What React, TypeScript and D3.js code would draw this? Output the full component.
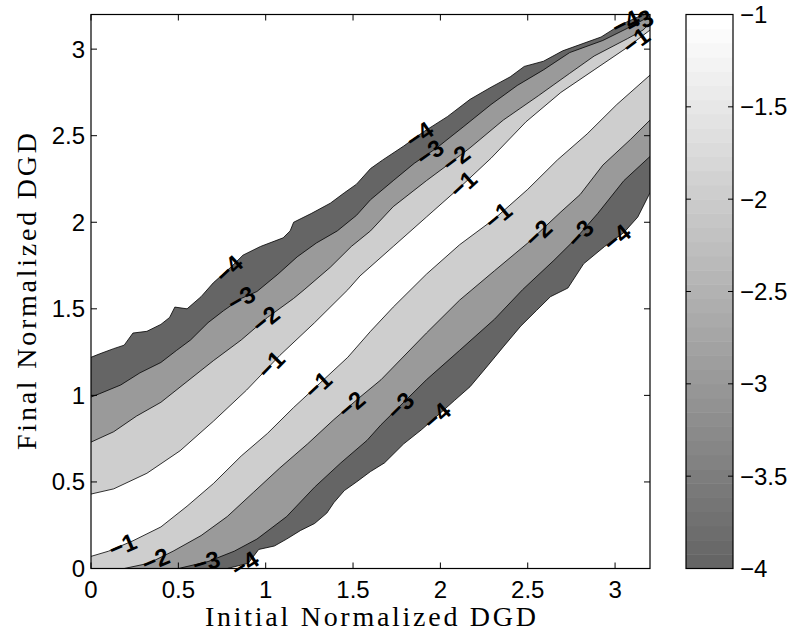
import React from 'react';
import * as d3 from 'd3';

type Pt = [number, number];

// Axis domains and ticks
const xDomain: [number, number] = [0, 3.2];
const yDomain: [number, number] = [0, 3.2];
const xTicks = [0, 0.5, 1, 1.5, 2, 2.5, 3];
const yTicks = [0, 0.5, 1, 1.5, 2, 2.5, 3];
const xTickLabels = ['0', '0.5', '1', '1.5', '2', '2.5', '3'];
const yTickLabels = ['0', '0.5', '1', '1.5', '2', '2.5', '3'];

// Contour levels (log10 of probability density) and the colour axis
const levels = [-4, -3, -2, -1];
const colorDomain: [number, number] = [-4, -1];
const colorTicks = [-1, -1.5, -2, -2.5, -3, -3.5, -4];
const colorTickLabels = ['\u22121', '\u22121.5', '\u22122', '\u22122.5', '\u22123', '\u22123.5', '\u22124'];

// Contour lines above the diagonal ridge (initial DGD, final DGD)
const upper4: Pt[] = [
  [0, 1.22], [0.05, 1.24], [0.13, 1.27], [0.19, 1.29], [0.24, 1.36], [0.32, 1.37], [0.4, 1.41],
  [0.45, 1.45], [0.48, 1.51], [0.55, 1.5], [0.63, 1.57], [0.7, 1.65], [0.8, 1.74], [0.87, 1.81],
  [0.97, 1.86], [1.1, 1.91], [1.14, 1.95], [1.16, 2.0], [1.26, 2.05], [1.37, 2.11], [1.45, 2.17],
  [1.52, 2.22], [1.6, 2.31], [1.67, 2.36], [1.79, 2.44], [1.9, 2.52], [2.04, 2.61], [2.17, 2.71],
  [2.29, 2.78], [2.4, 2.84], [2.48, 2.9], [2.59, 2.93], [2.7, 2.99], [2.92, 3.07], [3.03, 3.14],
  [3.14, 3.19], [3.17, 3.2],
];
const upper3: Pt[] = [
  [0, 0.99], [0.05, 1.01], [0.17, 1.06], [0.28, 1.13], [0.4, 1.19], [0.49, 1.26], [0.57, 1.32],
  [0.67, 1.42], [0.76, 1.49], [0.86, 1.56], [0.95, 1.6], [1.07, 1.7], [1.18, 1.8], [1.29, 1.88],
  [1.41, 1.95], [1.52, 2.04], [1.6, 2.13], [1.73, 2.24], [1.85, 2.34], [1.98, 2.43], [2.13, 2.55],
  [2.29, 2.68], [2.44, 2.79], [2.59, 2.88], [2.74, 2.98], [2.93, 3.05], [3.07, 3.12], [3.2, 3.19],
];
const upper2: Pt[] = [
  [0, 0.73], [0.13, 0.79], [0.26, 0.88], [0.4, 0.96], [0.55, 1.08], [0.7, 1.2], [0.86, 1.32],
  [1.01, 1.45], [1.16, 1.56], [1.22, 1.61], [1.37, 1.74], [1.49, 1.86], [1.6, 1.95], [1.73, 2.09],
  [1.92, 2.24], [2.04, 2.33], [2.17, 2.43], [2.36, 2.59], [2.56, 2.73], [2.74, 2.86], [2.88, 2.96],
  [3.07, 3.06], [3.16, 3.11], [3.2, 3.15],
];
const upper1: Pt[] = [
  [0, 0.43], [0.13, 0.46], [0.32, 0.55], [0.51, 0.68], [0.7, 0.85], [0.89, 1.03], [1.08, 1.23],
  [1.28, 1.42], [1.47, 1.61], [1.54, 1.69], [1.73, 1.86], [1.92, 2.03], [2.11, 2.2], [2.29, 2.37],
  [2.49, 2.58], [2.69, 2.75], [2.88, 2.88], [3.07, 3.01], [3.2, 3.11],
];

// Contour lines below the diagonal ridge
const lower1: Pt[] = [
  [0, 0.07], [0.1, 0.1], [0.24, 0.16], [0.4, 0.24], [0.55, 0.36], [0.7, 0.49], [0.86, 0.65],
  [1.01, 0.78], [1.16, 0.93], [1.31, 1.07], [1.47, 1.22], [1.6, 1.37], [1.73, 1.51], [1.92, 1.7],
  [2.11, 1.87], [2.31, 2.02], [2.5, 2.19], [2.67, 2.36], [2.84, 2.51], [3.01, 2.68], [3.2, 2.85],
];
const lower2: Pt[] = [
  [0.19, 0], [0.33, 0.03], [0.47, 0.1], [0.63, 0.19], [0.78, 0.3], [0.93, 0.44], [1.08, 0.58],
  [1.24, 0.72], [1.39, 0.86], [1.54, 0.99], [1.66, 1.09], [1.92, 1.36], [2.11, 1.55], [2.31, 1.72],
  [2.5, 1.88], [2.69, 2.06], [2.8, 2.16], [2.93, 2.33], [3.09, 2.48], [3.2, 2.59],
];
const lower3: Pt[] = [
  [0.5, 0], [0.67, 0.04], [0.82, 0.1], [0.95, 0.17], [1.12, 0.3], [1.28, 0.47], [1.43, 0.61],
  [1.58, 0.74], [1.66, 0.83], [1.92, 1.09], [2.11, 1.26], [2.31, 1.44], [2.47, 1.61], [2.65, 1.78],
  [2.77, 1.9], [2.9, 2.05], [3.05, 2.24], [3.2, 2.38],
];
const lower4: Pt[] = [
  [0.78, 0], [0.9, 0.03], [0.96, 0.11], [1.05, 0.13], [1.12, 0.17], [1.2, 0.22], [1.28, 0.26],
  [1.35, 0.32], [1.39, 0.38], [1.45, 0.45], [1.52, 0.5], [1.6, 0.56], [1.68, 0.61], [1.79, 0.72],
  [1.89, 0.8], [1.98, 0.88], [2.08, 0.97], [2.17, 1.05], [2.27, 1.17], [2.36, 1.28], [2.46, 1.4],
  [2.55, 1.49], [2.63, 1.57], [2.73, 1.62], [2.82, 1.76], [2.94, 1.86], [3.05, 1.94], [3.13, 2.03],
  [3.2, 2.17],
];

const upperByLevel: Record<number, Pt[]> = { [-4]: upper4, [-3]: upper3, [-2]: upper2, [-1]: upper1 };
const lowerByLevel: Record<number, Pt[]> = { [-4]: lower4, [-3]: lower3, [-2]: lower2, [-1]: lower1 };

// Inline contour labels: level, which side of the ridge, initial-DGD position
const labelLevels = [-4, -4, -3, -3, -2, -2, -1, -1, -1, -1, -1, -2, -2, -2, -3, -3, -3, -4, -4, -4, -4, -3, -1];
const labelSides = ['u', 'u', 'u', 'u', 'u', 'u', 'u', 'u', 'l', 'l', 'l', 'l', 'l', 'l', 'l', 'l', 'l', 'l', 'l', 'l', 'u', 'u', 'u'];
const labelX = [0.79, 1.88, 0.86, 1.94, 1.0, 2.09, 1.03, 2.13, 0.18, 1.3, 2.33, 0.37, 1.49, 2.56, 0.66, 1.77, 2.8, 0.88, 1.98, 3.01, 3.06, 3.14, 3.12];

const AX = { left: 91, right: 650, top: 14.5, bottom: 568.5 };
const CB = { left: 686, right: 733 };
const N_COLORS = 39;

// gray(64) rows 26..64
const grayAt = (i: number) => {
  const v = Math.round(((25 + i) / 63) * 255);
  return `rgb(${v},${v},${v})`;
};
const colorIndex = (v: number) =>
  Math.max(0, Math.min(N_COLORS - 1, Math.floor(((v - colorDomain[0]) / (colorDomain[1] - colorDomain[0])) * N_COLORS)));

function interpY(curve: Pt[], xv: number): number {
  if (xv <= curve[0][0]) return curve[0][1];
  for (let i = 0; i < curve.length - 1; i++) {
    const [x0, y0] = curve[i];
    const [x1, y1] = curve[i + 1];
    if (xv >= x0 && xv <= x1) return x1 === x0 ? y0 : y0 + ((xv - x0) / (x1 - x0)) * (y1 - y0);
  }
  return curve[curve.length - 1][1];
}

export default function App() {
  const x = d3.scaleLinear().domain(xDomain).range([AX.left, AX.right]);
  const y = d3.scaleLinear().domain(yDomain).range([AX.bottom, AX.top]);
  const cy = d3.scaleLinear().domain(colorDomain).range([AX.bottom, AX.top]);
  const line = d3.line<Pt>().x((d) => x(d[0])).y((d) => y(d[1]));

  const bandPolygon = (lv: number): Pt[] => {
    const up = upperByLevel[lv];
    const lo = lowerByLevel[lv];
    const pts: Pt[] = [...up];
    if (up[up.length - 1][1] >= yDomain[1] - 1e-6) pts.push([xDomain[1], yDomain[1]]);
    pts.push(...[...lo].reverse());
    if (lo[0][1] <= yDomain[0] + 1e-6) pts.push([xDomain[0], yDomain[0]]);
    return pts;
  };

  const labels = labelLevels.map((lv, i) => {
    const curve = labelSides[i] === 'u' ? upperByLevel[lv] : lowerByLevel[lv];
    const xv = labelX[i];
    const lo = Math.max(curve[0][0], xv - 0.08);
    const hi = Math.min(curve[curve.length - 1][0], xv + 0.08);
    const ang = (Math.atan2(y(interpY(curve, hi)) - y(interpY(curve, lo)), x(hi) - x(lo)) * 180) / Math.PI;
    return { px: x(xv), py: y(interpY(curve, xv)), ang, text: '\u2212' + Math.abs(lv) };
  });

  const tickLen = 6;
  const fs = 24;
  const sans = 'Liberation Sans, Arial, Helvetica, sans-serif';
  const serif = 'Liberation Serif, Times New Roman, serif';
  const bandStep = (colorDomain[1] - colorDomain[0]) / N_COLORS;

  return (
    <svg width={796} height={634} style={{ position: 'absolute', left: 0, top: 0, background: '#fff' }}>
      <defs>
        <clipPath id="plot-area">
          <rect x={AX.left} y={AX.top} width={AX.right - AX.left} height={AX.bottom - AX.top} />
        </clipPath>
      </defs>
      <rect x={0} y={0} width={796} height={634} fill="#fff" />

      <g clipPath="url(#plot-area)">
        {levels.map((lv) => (
          <path key={'f' + lv} d={line(bandPolygon(lv)) + 'Z'} fill={grayAt(colorIndex(lv))} stroke="none" />
        ))}
        {levels.map((lv) => (
          <g key={'c' + lv}>
            <path d={line(upperByLevel[lv]) || ''} fill="none" stroke="#000" strokeWidth={0.8} />
            <path d={line(lowerByLevel[lv]) || ''} fill="none" stroke="#000" strokeWidth={0.8} />
          </g>
        ))}
      </g>

      {labels.map((l, i) => (
        <text
          key={'lab' + i}
          transform={`translate(${l.px},${l.py}) rotate(${l.ang})`}
          textAnchor="middle"
          dominantBaseline="central"
          fontFamily={sans}
          fontWeight="bold"
          fontSize={fs}
          fill="#000"
        >
          {l.text}
        </text>
      ))}

      {/* axes frame and ticks */}
      <rect x={AX.left} y={AX.top} width={AX.right - AX.left} height={AX.bottom - AX.top} fill="none" stroke="#000" strokeWidth={1.2} />
      {xTicks.map((t) => (
        <g key={'xt' + t}>
          <line x1={x(t)} x2={x(t)} y1={AX.bottom} y2={AX.bottom - tickLen} stroke="#000" strokeWidth={1} />
          <line x1={x(t)} x2={x(t)} y1={AX.top} y2={AX.top + tickLen} stroke="#000" strokeWidth={1} />
        </g>
      ))}
      {yTicks.map((t) => (
        <g key={'yt' + t}>
          <line x1={AX.left} x2={AX.left + tickLen} y1={y(t)} y2={y(t)} stroke="#000" strokeWidth={1} />
          <line x1={AX.right} x2={AX.right - tickLen} y1={y(t)} y2={y(t)} stroke="#000" strokeWidth={1} />
        </g>
      ))}
      {xTicks.map((t, i) => (
        <text key={'xl' + t} x={x(t)} y={598} textAnchor="middle" fontFamily={sans} fontSize={fs}>
          {xTickLabels[i]}
        </text>
      ))}
      {yTicks.map((t, i) => (
        <text key={'yl' + t} x={85} y={y(t) + 8.5} textAnchor="end" fontFamily={sans} fontSize={fs}>
          {yTickLabels[i]}
        </text>
      ))}

      <text x={(AX.left + AX.right) / 2} y={626} textAnchor="middle" fontFamily={serif} fontSize={28} textLength={331} lengthAdjust="spacing">
        Initial Normalized DGD
      </text>
      <text
        transform={`translate(36,${(AX.top + AX.bottom) / 2}) rotate(-90)`}
        textAnchor="middle"
        fontFamily={serif}
        fontSize={28}
        textLength={317}
        lengthAdjust="spacing"
      >
        Final Normalized DGD
      </text>

      {/* colorbar */}
      {d3.range(N_COLORS).map((i) => {
        const v0 = colorDomain[0] + i * bandStep;
        const v1 = v0 + bandStep;
        return (
          <rect key={'cb' + i} x={CB.left} width={CB.right - CB.left} y={cy(v1)} height={cy(v0) - cy(v1) + 0.5} fill={grayAt(i)} />
        );
      })}
      <rect x={CB.left} y={AX.top} width={CB.right - CB.left} height={AX.bottom - AX.top} fill="none" stroke="#000" strokeWidth={1.2} />
      {colorTicks.map((t, i) => (
        <g key={'ct' + t}>
          <line x1={CB.left} x2={CB.left + 5} y1={cy(t)} y2={cy(t)} stroke="#000" strokeWidth={1} />
          <line x1={CB.right} x2={CB.right - 5} y1={cy(t)} y2={cy(t)} stroke="#000" strokeWidth={1} />
          <text x={740} y={cy(t) + 8.5} fontFamily={sans} fontSize={fs}>
            {colorTickLabels[i]}
          </text>
        </g>
      ))}
    </svg>
  );
}
